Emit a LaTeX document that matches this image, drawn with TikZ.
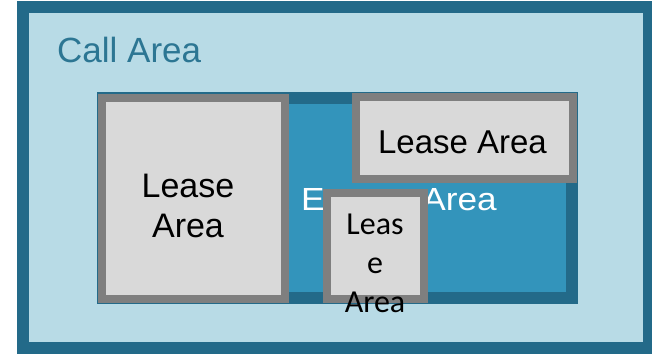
\documentclass[tikz,border=0pt]{standalone}
\usepackage{fontspec}
\setmainfont{Liberation Sans}
\newfontfamily\smallboxfont{Carlito}
\usepackage{tikz}
\definecolor{calledge}{HTML}{236A89}
\definecolor{callfill}{HTML}{B8DBE6}
\definecolor{calltext}{HTML}{2C7693}
\definecolor{weafill}{HTML}{3394BB}
\definecolor{leaseedge}{HTML}{7F7F7F}
\definecolor{leasefill}{HTML}{D9D9D9}

\begin{document}
\begin{tikzpicture}[x=1pt,y=-1pt,inner sep=0pt]
\tikzstyle{area}=[draw=calledge, line width=12pt]
\tikzstyle{lease}=[draw=leaseedge, fill=leasefill, line width=8pt]
\useasboundingbox (0,0) rectangle (652,353);
\draw[area,fill=callfill] (23,7) rectangle (649,348);
\node[anchor=base west,text=calltext,font=\fontsize{35}{42}\selectfont] (call) at (57,62) {Call Area};
\draw[area,fill=weafill] (103,98) rectangle (572,298);
\node[anchor=base east,text=white,font=\fontsize{32}{38}\selectfont] (wea) at (497,210) {\scalebox{1.1}[1]{Wind Energy Area}};
\draw[lease] (102,98) rectangle (285,299);
\node[align=center,font=\fontsize{34}{40}\selectfont] (leaseA) at (188,206) {Lease\\Area};
\draw[lease] (356,97) rectangle (573,179);
\node[anchor=base,font=\fontsize{33}{40}\selectfont] (leaseB) at (462.5,153) {Lease Area};
\draw[lease] (327,193) rectangle (424,299);
\node[align=center,font=\smallboxfont\fontsize{32}{39}\selectfont] (leaseC) at (375,263) {Leas\\e\\Area};
\end{tikzpicture}
\end{document}
